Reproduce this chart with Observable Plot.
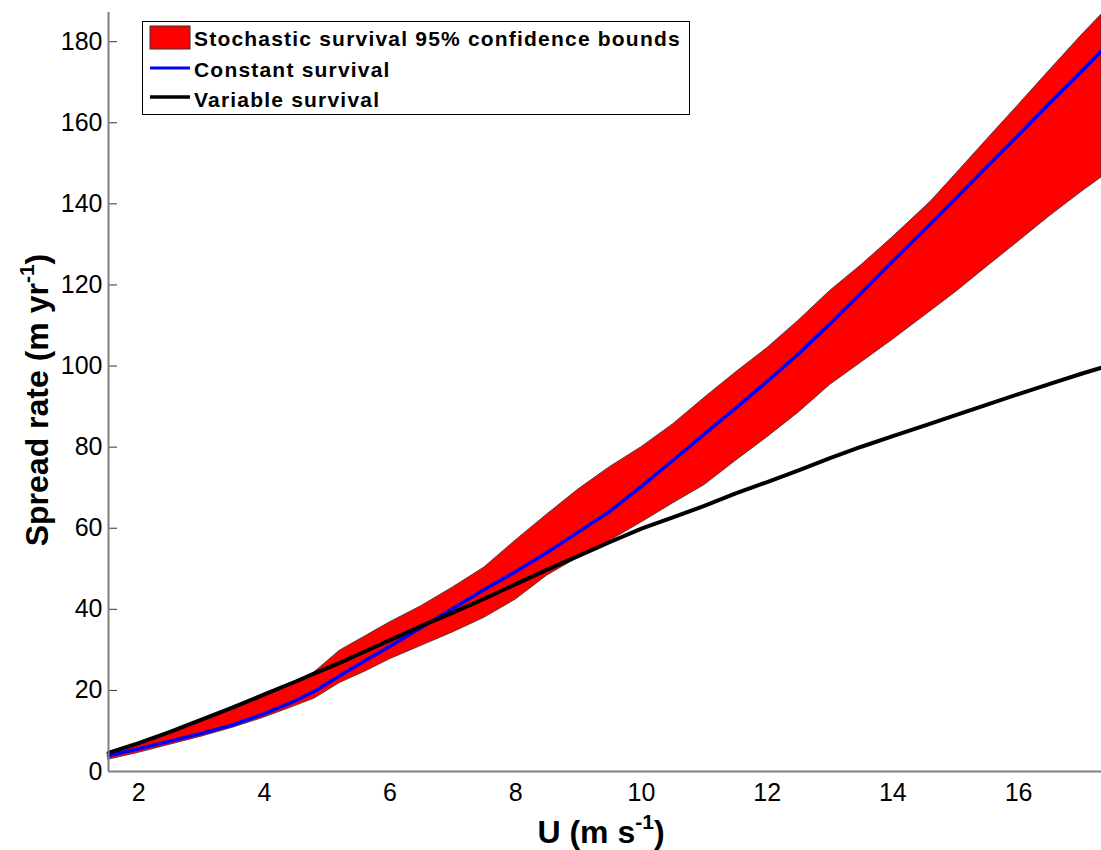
<!DOCTYPE html>
<html>
<head>
<meta charset="utf-8">
<script src="https://cdn.jsdelivr.net/npm/d3@7"></script>
<script src="https://cdn.jsdelivr.net/npm/@observablehq/plot@0.6"></script>
<style>
  html, body { margin: 0; padding: 0; background: #fff; }
  #chart { width: 1101px; height: 850px; }
</style>
</head>
<body>
<div id="chart"></div>
<script>
// ---- data ----
const U = [1.52, 2, 2.5, 3, 3.5, 4, 4.5, 4.8, 5.2, 5.6, 6, 6.5, 7, 7.5, 8, 8.5, 9, 9.5, 10, 10.5, 11, 11.5, 12, 12.5, 13, 13.5, 14, 14.6, 15, 15.5, 16, 16.5, 17, 17.32];
const lowerBound = [2.9, 4.6, 6.6, 8.6, 10.8, 13.3, 16.2, 18.0, 21.8, 24.6, 27.7, 31.0, 34.3, 37.9, 42.4, 48.3, 52.8, 56.9, 61.4, 66.1, 70.6, 76.6, 82.4, 88.5, 95.3, 100.9, 106.5, 113.5, 118.2, 124.5, 130.7, 137.0, 142.9, 146.5];
const upperBound = [4.8, 7.0, 9.4, 12.3, 15.2, 18.5, 21.9, 24.5, 29.8, 33.3, 36.8, 40.8, 45.4, 50.3, 57.0, 63.4, 69.6, 75.1, 80.0, 85.6, 92.1, 98.4, 104.4, 111.2, 118.5, 124.9, 131.8, 140.5, 147.3, 155.9, 164.4, 173.0, 181.5, 186.7];
const constantSurvival = [3.9, 5.6, 7.5, 9.4, 11.5, 14.3, 17.5, 19.8, 23.6, 27.3, 30.9, 35.5, 40.2, 44.9, 49.3, 54.0, 59.1, 64.2, 70.3, 76.7, 83.2, 89.6, 96.2, 103.0, 110.4, 118.1, 125.9, 135.1, 141.3, 149.2, 157.0, 164.9, 172.6, 177.7];
const variableSurvival = [4.6, 7.0, 9.8, 12.8, 15.8, 19.0, 22.2, 24.2, 26.8, 29.6, 32.4, 35.9, 39.2, 42.6, 46.2, 49.8, 53.2, 56.6, 59.9, 62.7, 65.5, 68.6, 71.4, 74.3, 77.3, 80.1, 82.7, 85.8, 87.9, 90.5, 93.1, 95.6, 98.1, 99.6];

const xTicks = [2, 4, 6, 8, 10, 12, 14, 16];
const yTicks = [0, 20, 40, 60, 80, 100, 120, 140, 160, 180];
const xDomain = [1.52, 17.32];
const yDomain = [0, 187.2];

const legendLabels = ["Stochastic survival 95% confidence bounds", "Constant survival", "Variable survival"];
const xLabel = ["U (m s", "-1", ")"];
const yLabel = ["Spread rate (m yr", "-1", ")"];

const rows = U.map((u, i) => ({u, lo: lowerBound[i], hi: upperBound[i], c: constantSurvival[i], v: variableSurvival[i]}));

const W = 1101, H = 850, mL = 108, mR = 0, mT = 12, mB = 79;

const chart = Plot.plot({
  width: W, height: H,
  marginLeft: mL, marginRight: mR, marginTop: mT, marginBottom: mB,
  style: {fontFamily: "'Liberation Sans', Arial, sans-serif", fontSize: "25px", color: "#000", background: "#fff", overflow: "visible"},
  x: {domain: xDomain},
  y: {domain: yDomain},
  marks: [
    Plot.areaY(rows, {x: "u", y1: "lo", y2: "hi", fill: "#ff0000", stroke: "#333", strokeWidth: 0.8}),
    Plot.lineY(rows, {x: "u", y: "c", stroke: "#0000ff", strokeWidth: 3.5}),
    Plot.lineY(rows, {x: "u", y: "v", stroke: "#000", strokeWidth: 4}),
    Plot.axisX(xTicks, {tickSize: 0, tickPadding: 12, label: null, fontSize: 25, fill: "#000"}),
    Plot.axisY(yTicks, {tickSize: 0, tickPadding: 6, label: null, fontSize: 25, fill: "#000"}),
    Plot.tickY(yTicks, {y: d => d, stroke: "#333", strokeWidth: 1, insetRight: W - mL - mR - 9}),
    Plot.ruleY([yDomain[0]], {stroke: "#808080", strokeWidth: 2}),
    Plot.ruleX([xDomain[0]], {stroke: "#808080", strokeWidth: 2})
  ]
});

document.getElementById("chart").appendChild(chart);

const svg = d3.select(chart);

// axis titles with superscripts
function addLabel(parts, transform) {
  const t = svg.append("text")
    .attr("transform", transform)
    .attr("text-anchor", "middle")
    .attr("font-weight", "bold")
    .attr("font-size", 32)
    .attr("fill", "#000");
  t.append("tspan").text(parts[0]);
  t.append("tspan").attr("dy", -14).attr("font-size", 21).text(parts[1]);
  t.append("tspan").attr("dy", 14).text(parts[2]);
}
addLabel(xLabel, "translate(601,843)");
addLabel(yLabel, "translate(48,400) rotate(-90)");

// legend
const lg = svg.append("g");
lg.append("rect").attr("x", 142.5).attr("y", 21.5).attr("width", 547).attr("height", 93)
  .attr("fill", "#fff").attr("stroke", "#000").attr("stroke-width", 1);
lg.append("rect").attr("x", 150).attr("y", 26).attr("width", 40).attr("height", 23)
  .attr("fill", "#ff0000").attr("stroke", "#333").attr("stroke-width", 1);
lg.append("line").attr("x1", 150).attr("x2", 190).attr("y1", 68).attr("y2", 68)
  .attr("stroke", "#0000ff").attr("stroke-width", 3);
lg.append("line").attr("x1", 150).attr("x2", 190).attr("y1", 97).attr("y2", 97)
  .attr("stroke", "#000").attr("stroke-width", 3.5);
const ly = [46, 77, 107];
legendLabels.forEach((s, i) => {
  lg.append("text").attr("x", 194).attr("y", ly[i])
    .attr("text-anchor", "start")
    .attr("font-size", 21).attr("font-weight", "bold").attr("letter-spacing", 1.2)
    .attr("fill", "#000").text(s);
});
</script>
</body>
</html>
